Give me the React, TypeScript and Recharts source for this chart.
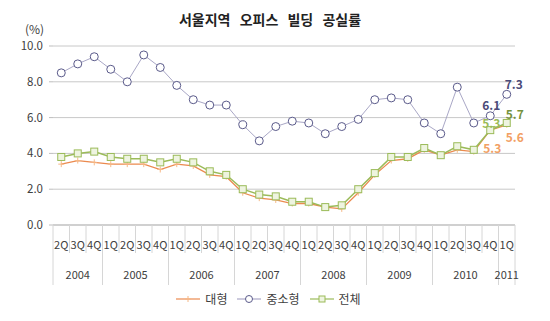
import React from 'react';
import { LineChart, Line, XAxis, YAxis, CartesianGrid, Legend, LabelList } from 'recharts';

// 2004 2Q ~ 2011 1Q
const quarters = [
  '2Q', '3Q', '4Q',
  '1Q', '2Q', '3Q', '4Q',
  '1Q', '2Q', '3Q', '4Q',
  '1Q', '2Q', '3Q', '4Q',
  '1Q', '2Q', '3Q', '4Q',
  '1Q', '2Q', '3Q', '4Q',
  '1Q', '2Q', '3Q', '4Q',
  '1Q',
];
const years = ['2004', '2005', '2006', '2007', '2008', '2009', '2010', '2011'];
const quartersPerYear = [3, 4, 4, 4, 4, 4, 4, 1];

// 대형
const large = [3.4, 3.6, 3.5, 3.4, 3.4, 3.4, 3.1, 3.4, 3.3, 2.8, 2.7, 1.8, 1.5, 1.4, 1.2, 1.2, 1.0, 0.9, 1.8, 2.8, 3.6, 3.7, 4.2, 3.9, 4.2, 4.1, 5.3, 5.6];
// 중소형
const smallMid = [8.5, 9.0, 9.4, 8.7, 8.0, 9.5, 8.8, 7.8, 7.0, 6.7, 6.7, 5.6, 4.7, 5.5, 5.8, 5.7, 5.1, 5.5, 5.9, 7.0, 7.1, 7.0, 5.7, 5.1, 7.7, 5.7, 6.1, 7.3];
// 전체
const total = [3.8, 4.0, 4.1, 3.8, 3.7, 3.7, 3.5, 3.7, 3.5, 3.0, 2.8, 2.0, 1.7, 1.6, 1.3, 1.3, 1.0, 1.1, 2.0, 2.9, 3.8, 3.8, 4.3, 3.9, 4.4, 4.2, 5.3, 5.7];

const yTicks = [0, 2, 4, 6, 8, 10];

const groupStarts: number[] = [];
const yearOf: string[] = [];
quartersPerYear.reduce((start, n, g) => {
  groupStarts.push(start);
  for (let k = 0; k < n; k++) yearOf.push(years[g]);
  return start + n;
}, 0);

// unique category keys so duplicate quarter names don't collapse
const data = quarters.map((q, i) => ({ key: `${yearOf[i]} ${q}`, q, large: large[i], smallMid: smallMid[i], total: total[i] }));

const W = 550;
const H = 321;
const margin = { top: 46, right: 35, bottom: 5, left: 8 };
const yAxisW = 45;
const half = (W - margin.left - margin.right - yAxisW) / quarters.length / 2;

const axisText = '#404040';
const sepColor = '#d6d6d6';

const CategoryTick = ({ x, y, index }: any) => {
  const left = x - half;
  const g = groupStarts.indexOf(index);
  const last = index === quarters.length - 1;
  return (
    <g>
      <line x1={left} y1={y} x2={left} y2={y + (g >= 0 ? 60 : 28)} stroke={sepColor} />
      {last && <line x1={x + half} y1={y} x2={x + half} y2={y + 60} stroke={sepColor} />}
      <text x={x} y={y + 24} textAnchor="middle" fontSize={11} fill={axisText}>
        {quarters[index]}
      </text>
      {g >= 0 && (
        <text x={left + quartersPerYear[g] * half} y={y + 54} textAnchor="middle" fontSize={11} fill={axisText}>
          {years[g]}
        </text>
      )}
    </g>
  );
};

// only the last two points carry a value label
const endLabels = (spots: Record<number, { dx: number; dy: number; color: string }>) => (props: any) => {
  const { x, y, value, index } = props;
  const s = spots[index];
  if (!s) return null;
  return (
    <text x={x + s.dx} y={y + s.dy} fill={s.color} fontSize={12} fontWeight="bold" textAnchor="middle" dominantBaseline="central">
      {Number(value).toFixed(1)}
    </text>
  );
};

const PlusDot = ({ cx, cy }: any) => (
  <g stroke="#f6b886" strokeWidth={1}>
    <line x1={cx - 3} y1={cy} x2={cx + 3} y2={cy} />
    <line x1={cx} y1={cy - 3} x2={cx} y2={cy + 3} />
  </g>
);

const SquareDot = ({ cx, cy }: any) => (
  <rect x={cx - 3.5} y={cy - 3.5} width={7} height={7} fill="#eef4e0" stroke="#9bbb59" strokeWidth={1} />
);

const legendItems = [
  { name: '대형', line: '#eb8a4f', marker: 'plus' },
  { name: '중소형', line: '#a9a7c6', marker: 'circle' },
  { name: '전체', line: '#9bbb59', marker: 'square' },
];

const LegendContent = () => (
  <div style={{ display: 'flex', justifyContent: 'center', fontSize: 12, color: axisText, paddingLeft: 24 }}>
    {legendItems.map((it) => (
      <div key={it.name} style={{ display: 'flex', alignItems: 'center', marginRight: 10 }}>
        <svg width={24} height={10} style={{ marginRight: 5 }}>
          <line x1={0} y1={5} x2={24} y2={5} stroke={it.line} strokeWidth={1.2} />
          {it.marker === 'plus' && (
            <g stroke="#f6b886">
              <line x1={9} y1={5} x2={15} y2={5} />
              <line x1={12} y1={2} x2={12} y2={8} />
            </g>
          )}
          {it.marker === 'circle' && <circle cx={12} cy={5} r={3.5} fill="#fff" stroke="#5a5a8a" />}
          {it.marker === 'square' && <rect x={9} y={2} width={6} height={6} fill="#eef4e0" stroke="#9bbb59" />}
        </svg>
        <span>{it.name}</span>
      </div>
    ))}
  </div>
);

export default function App() {
  return (
    <div style={{ position: 'absolute', left: 0, top: 0, width: W, height: H, background: '#fff', fontFamily: '"Noto Sans CJK KR", sans-serif' }}>
      <div style={{ position: 'absolute', top: 9, left: 0, width: 540, textAlign: 'center', fontSize: 14, fontWeight: 'bold', color: '#222', wordSpacing: 6 }}>
        서울지역 오피스 빌딩 공실률
      </div>
      <LineChart width={W} height={H} data={data} margin={margin}>
        <CartesianGrid horizontal vertical={false} stroke="#c8c8c8" />
        <XAxis
          dataKey="key"
          interval={0}
          padding={{ left: half, right: half }}
          height={65}
          tickSize={0}
          tickMargin={0}
          axisLine={{ stroke: '#bdbdbd' }}
          tickLine={false}
          tick={<CategoryTick />}
        />
        <YAxis
          domain={[0, 10]}
          ticks={yTicks}
          width={yAxisW}
          axisLine={false}
          tickLine={{ stroke: '#bdbdbd' }}
          tickSize={4}
          tickMargin={6}
          tick={{ fontSize: 11.5, fill: axisText }}
          tickFormatter={(v: number) => v.toFixed(1)}
          label={{ value: '(%)', position: 'top', offset: 12, fontSize: 12, fill: axisText, dx: 4 }}
        />
        <Legend verticalAlign="bottom" height={26} content={<LegendContent />} />
        <Line
          dataKey="large"
          name="대형"
          stroke="#eb8a4f"
          strokeWidth={1.3}
          dot={<PlusDot />}
          isAnimationActive={false}
        >
          <LabelList
            dataKey="large"
            content={endLabels({
              26: { dx: 2, dy: 17, color: '#f2a064' },
              27: { dx: 8, dy: 12, color: '#f2a064' },
            })}
          />
        </Line>
        <Line
          dataKey="smallMid"
          name="중소형"
          stroke="#a9a7c6"
          strokeWidth={1}
          dot={{ r: 4, fill: '#fff', stroke: '#5a5a8a', strokeWidth: 1 }}
          isAnimationActive={false}
        >
          <LabelList
            dataKey="smallMid"
            content={endLabels({
              26: { dx: 1, dy: -11, color: '#4b4b78' },
              27: { dx: 7, dy: -11, color: '#4b4b78' },
            })}
          />
        </Line>
        <Line
          dataKey="total"
          name="전체"
          stroke="#9bbb59"
          strokeWidth={1.5}
          dot={<SquareDot />}
          isAnimationActive={false}
        >
          <LabelList
            dataKey="total"
            content={endLabels({
              26: { dx: 1, dy: -8, color: '#9bbb59' },
              27: { dx: 8, dy: -9, color: '#76923c' },
            })}
          />
        </Line>
      </LineChart>
    </div>
  );
}
